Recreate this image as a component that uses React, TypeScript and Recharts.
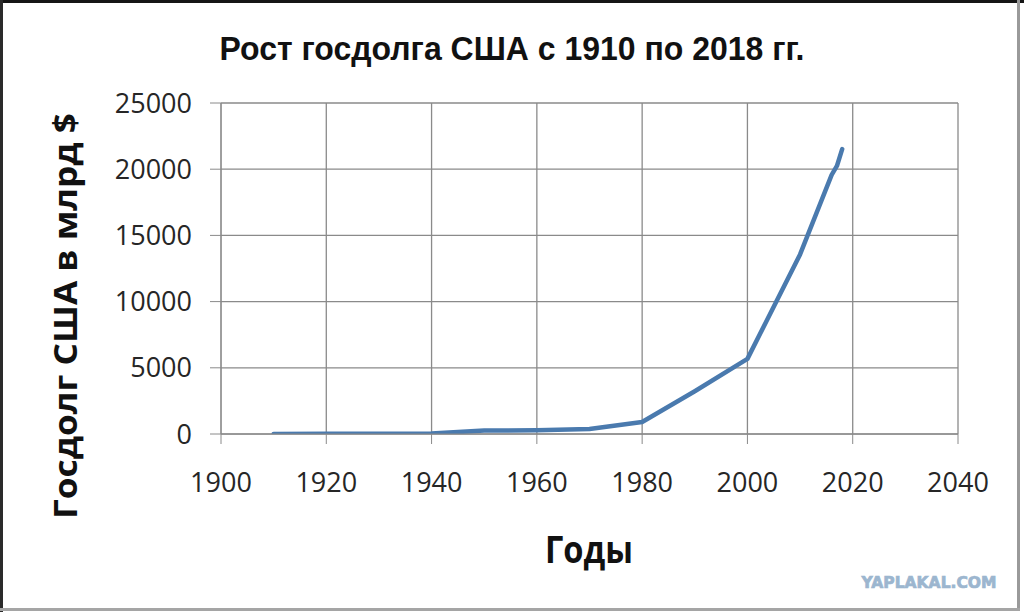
import React from 'react';
import { LineChart, Line, XAxis, YAxis, CartesianGrid } from 'recharts';

const years = [1910, 1920, 1930, 1940, 1950, 1960, 1970, 1980, 1990, 2000, 2010, 2016, 2017, 2018];
const debt = [3, 24, 16, 43, 257, 286, 371, 908, 3233, 5674, 13562, 19573, 20245, 21516];
const xTicks = [1900, 1920, 1940, 1960, 1980, 2000, 2020, 2040];
const yTicks = [0, 5000, 10000, 15000, 20000, 25000];

const titleText = 'Рост госдолга США с 1910 по 2018 гг.';
const yLabelText = 'Госдолг США в млрд $';
const xLabelText = 'Годы';
const watermarkText = 'YAPLAKAL.COM';

const data = years.map((y, i) => ({ year: y, debt: debt[i] }));

const gridColor = '#8a8a8a';
const tickStyle = { fill: '#262626', fontSize: 27, fontFamily: 'Open Sans' };

export default function App() {
  return (
    <div style={{ position: 'fixed', left: 0, top: 0, width: 1024, height: 612, background: '#fff', overflow: 'hidden' }}>
      <LineChart width={1024} height={612} data={data} margin={{ top: 103, right: 66, bottom: 118, left: 0 }}>
        <CartesianGrid stroke={gridColor} strokeWidth={1.3} />
        <XAxis
          dataKey="year"
          type="number"
          domain={[1900, 2040]}
          ticks={xTicks}
          interval={0}
          height={60}
          tickSize={10}
          tickMargin={29}
          stroke={gridColor}
          tick={tickStyle}
          allowDataOverflow
        />
        <YAxis
          type="number"
          domain={[0, 25000]}
          ticks={yTicks}
          interval={0}
          width={221}
          tickSize={11}
          tickMargin={18}
          stroke={gridColor}
          tick={tickStyle}
          allowDataOverflow
        />
        <Line
          type="linear"
          dataKey="debt"
          stroke="#4a7aae"
          strokeWidth={4.5}
          strokeLinejoin="round"
          strokeLinecap="round"
          dot={false}
          isAnimationActive={false}
        />
      </LineChart>
      <svg width={1024} height={612} style={{ position: 'absolute', left: 0, top: 0, pointerEvents: 'none' }}>
        <text x={512} y={60} textAnchor="middle" fontFamily="'Liberation Sans', Arial, sans-serif" fontWeight={700} fontSize={33} fill="#111" textLength={585} lengthAdjust="spacingAndGlyphs">{titleText}</text>
        <text transform="translate(77,316) rotate(-90)" textAnchor="middle" fontFamily="'Open Sans', sans-serif" fontWeight={700} fontSize={32} fill="#111" textLength={406} lengthAdjust="spacingAndGlyphs">{yLabelText}</text>
        <text x={589} y={563} textAnchor="middle" fontFamily="'Open Sans', sans-serif" fontWeight={700} fontSize={37} fill="#111" textLength={88} lengthAdjust="spacingAndGlyphs">{xLabelText}</text>
        <text x={929} y={588} textAnchor="middle" fontFamily="'DejaVu Sans', sans-serif" fontWeight={700} fontSize={15} fill="#9cb6cf" stroke="#9cb6cf" strokeWidth={0.7} textLength={135} lengthAdjust="spacingAndGlyphs">{watermarkText}</text>
      </svg>
      <div style={{ position: 'absolute', left: 0, top: 0, width: 1024, height: 3, background: '#151515' }} />
      <div style={{ position: 'absolute', left: 0, top: 0, width: 3, height: 612, background: '#2a2a2a' }} />
      <div style={{ position: 'absolute', left: 1017, top: 0, width: 3, height: 610, background: '#9a9a9a' }} />
      <div style={{ position: 'absolute', left: 0, top: 608, width: 1020, height: 3, background: '#a5a5a5' }} />
    </div>
  );
}
